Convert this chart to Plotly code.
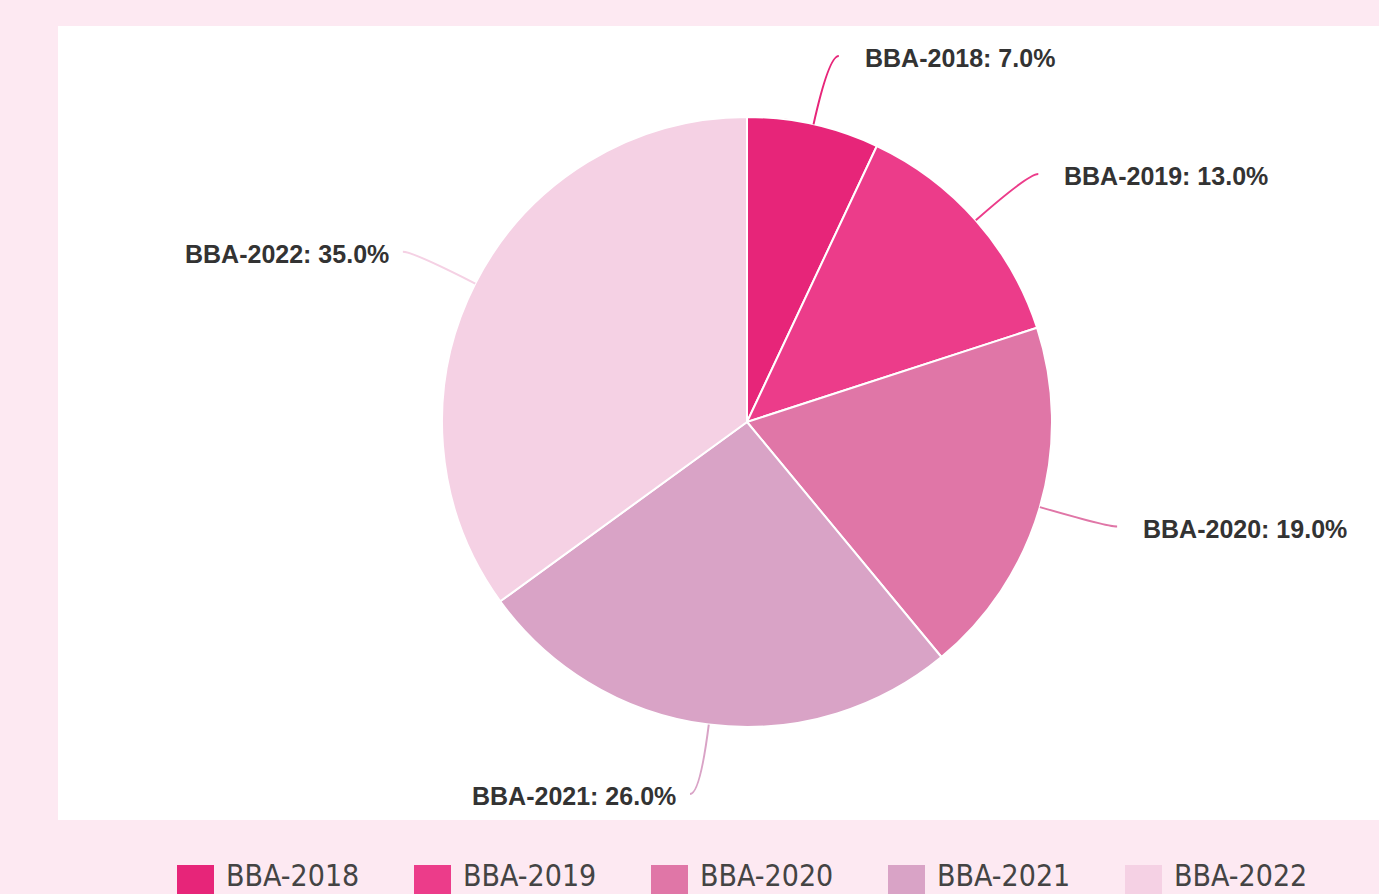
import math
import plotly.graph_objects as go

categories = ["BBA-2018", "BBA-2019", "BBA-2020", "BBA-2021", "BBA-2022"]
values = [7, 13, 19, 26, 35]
colors = ["#E72579", "#EC3C8A", "#E076A7", "#D9A3C6", "#F5D1E4"]

W, H = 1379, 894
CX, CY, R = 747, 422, 305  # pie centre / radius in pixels
EXT, HOR = 70, 10
GAP_R, GAP_L = 24, 12


def px(x):
    return x / W


def py(y):
    return 1 - y / H


fig = go.Figure()
fig.add_trace(go.Pie(
    labels=categories, values=values, sort=False, direction="clockwise",
    rotation=0, marker=dict(colors=colors, line=dict(color="white", width=2)),
    textinfo="none", hoverinfo="label+percent", showlegend=False,
    domain=dict(x=[px(CX - R), px(CX + R)], y=[py(CY + R), py(CY - R)]),
))

shapes = [dict(type="rect", xref="paper", yref="paper", x0=px(58), x1=1,
               y0=py(820), y1=py(26), fillcolor="white", line=dict(width=0),
               layer="below")]
annotations = []
total = sum(values)
cum = 0
for cat, v, c in zip(categories, values, colors):
    m = (cum + v / 2) / total
    cum += v
    th = m * 2 * math.pi
    s, co = math.sin(th), math.cos(th)
    x0, y0 = CX + R * s, CY - R * co
    x1, y1 = CX + (R + EXT) * s, CY - (R + EXT) * co
    side = 1 if s >= 0 else -1
    x2, y2 = x1 + side * HOR, y1
    path = (f"M {px(x0)},{py(y0)} Q {px(x1)},{py(y1)} {px(x2)},{py(y2)}")
    shapes.append(dict(type="path", xref="paper", yref="paper", path=path,
                       line=dict(color=c, width=2)))
    gap = GAP_R if side > 0 else GAP_L
    annotations.append(dict(
        xref="paper", yref="paper", x=px(x2 + side * gap), y=py(y2 + 2),
        xanchor="left" if side > 0 else "right", yanchor="middle",
        text=f"<b>{cat}: {v / total * 100:.1f}%</b>", showarrow=False,
        font=dict(family="Liberation Sans, Arial", size=25, color="#333333")))

# custom legend along the bottom
LX0, LSTEP, LY = 177, 237, 865
for i, (cat, c) in enumerate(zip(categories, colors)):
    lx = LX0 + i * LSTEP
    shapes.append(dict(type="rect", xref="paper", yref="paper",
                       x0=px(lx), x1=px(lx + 37), y0=py(LY + 34), y1=py(LY),
                       fillcolor=c, line=dict(width=0)))
    annotations.append(dict(
        xref="paper", yref="paper", x=px(lx + 48), y=0,
        xanchor="left", yanchor="bottom", text=cat, showarrow=False,
        borderpad=0,
        font=dict(family="DejaVu Sans Condensed, DejaVu Sans", size=30,
                  color="#444444")))

fig.update_layout(
    width=W, height=H, margin=dict(l=0, r=0, t=0, b=0),
    paper_bgcolor="#FDE9F2", plot_bgcolor="white",
    shapes=shapes, annotations=annotations, showlegend=False,
)
fig.write_html(
    "out.html",
    config={"displayModeBar": False},
    post_script="document.body.style.margin='0';"
                "document.body.style.background='#FDE9F2';",
)
